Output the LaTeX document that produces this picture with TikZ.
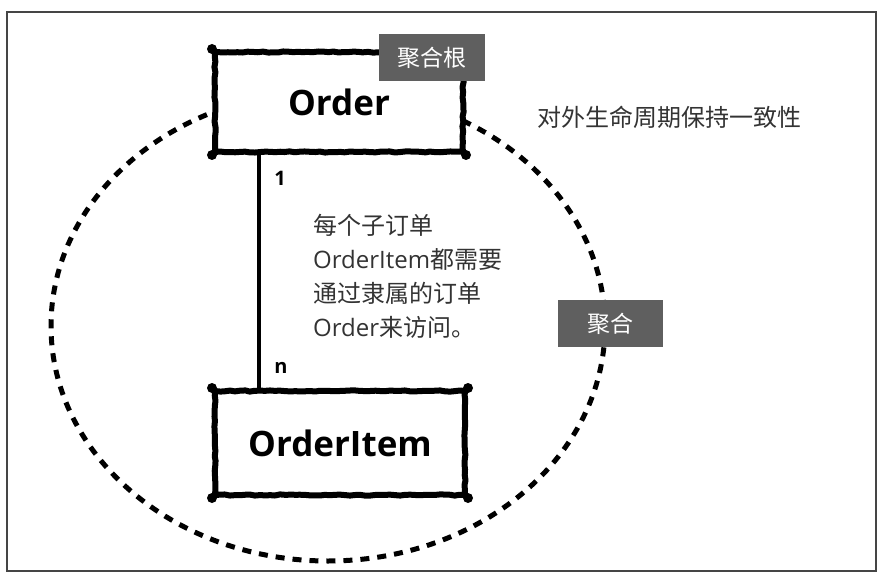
\documentclass[tikz,border=0pt]{standalone}
\usepackage{fontspec}
\setmainfont{Open Sans}
\newfontfamily\cjk{Noto Sans CJK SC}
\usetikzlibrary{decorations.pathmorphing}
\definecolor{tagbg}{HTML}{5F5F5F}
\definecolor{txtc}{HTML}{333333}
\definecolor{framec}{HTML}{454545}
\begin{document}
\begin{tikzpicture}[x=1pt,y=-1pt,
  entity/.style={draw=black, fill=white, line width=6pt, line join=round,
    decorate, decoration={random steps, segment length=5pt, amplitude=0.6pt},
    font=\bfseries\fontsize{35}{35}\selectfont, inner sep=0pt},
  tagbox/.style={fill=tagbg, text=white, inner sep=0pt,
    font=\cjk\fontsize{23}{23}\selectfont},
  bodytext/.style={anchor=base west, inner sep=0pt, text=txtc,
    font=\fontsize{24}{24}\selectfont},
  mult/.style={inner sep=0pt, font=\bfseries\fontsize{20}{20}\selectfont},
  aggline/.style={draw=black, line width=5pt, dash pattern=on 9pt off 8pt},
  blob/.style={fill=black}
]
\useasboundingbox (0,0) rectangle (886,580);
\fill[white] (0,0) rectangle (886,580);
\draw[framec, line width=2pt] (7,12) rectangle (876,571);

% aggregate boundary
\draw[aggline] (328,326) ellipse [x radius=277pt, y radius=235pt];

% boxes
\node[entity, minimum width=248pt, minimum height=100pt] (order) at (339,102) {Order};
\node[entity, minimum width=250pt, minimum height=104pt] (item) at (340,443) {OrderItem};
\foreach \n in {order,item}{
  \foreach \a in {north west,north east,south west,south east}{
    \fill[blob] (\n.\a) circle (5pt);
  }
}

% association
\draw[line width=3.5pt] ([xshift=47pt]order.south west) -- ([xshift=47pt]item.north west);
\node[mult] (one) at (280,178) {1};
\node[mult] (many) at (281,368) {n};

% tags
\node[tagbox, minimum width=106pt, minimum height=47pt] (root) at (432,57.5) {聚合根};
\node[tagbox, minimum width=105pt, minimum height=47pt] (agg) at (610.5,323.5) {聚合};

% texts
\node[bodytext] (life) at (537,127) {\cjk 对外生命周期保持一致性};
\node[bodytext] (t1) at (313,234) {\cjk 每个子订单};
\node[bodytext] (t2) at (313,268) {OrderItem{\cjk 都需要}};
\node[bodytext] (t3) at (313,302) {\cjk 通过隶属的订单};
\node[bodytext] (t4) at (313,336) {Order{\cjk 来访问。}};
\end{tikzpicture}
\end{document}
